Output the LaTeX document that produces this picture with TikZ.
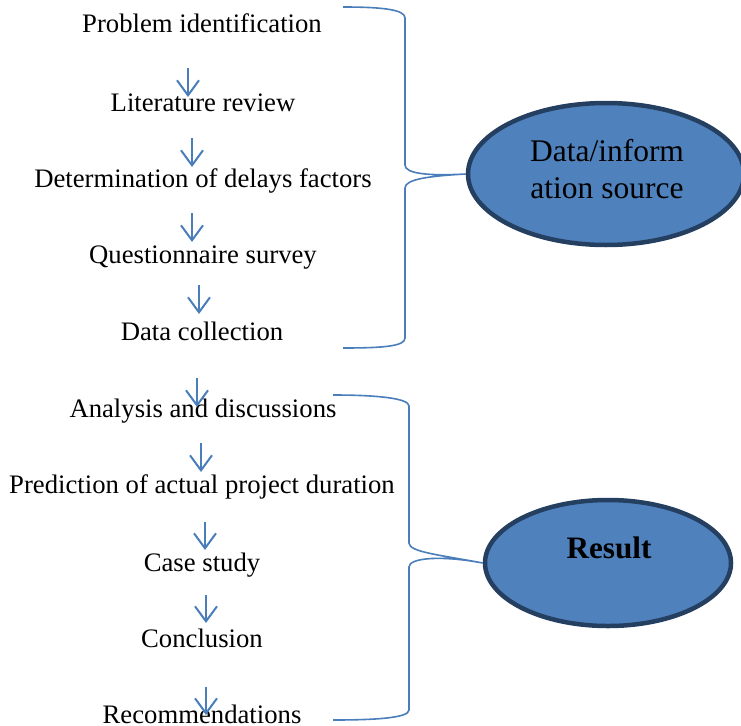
\documentclass[tikz,border=0pt]{standalone}
\usepackage{fontspec}
\setmainfont{Liberation Serif}
\usepackage{tikz}
\usetikzlibrary{arrows.meta,shapes.geometric}
\definecolor{linec}{HTML}{4A7EBB}
\definecolor{fillc}{HTML}{4F81BD}
\definecolor{edgec}{HTML}{243F60}
\tikzset{
  ar/.style={-{Straight Barb[length=15pt,width=22pt,line width=2pt]},line width=2pt,linec},
  brc/.style={line width=1.6pt,linec},
  stage/.style={anchor=base,inner sep=0pt,font=\fontsize{26.7}{32}\selectfont},
  src/.style={ellipse,draw=edgec,line width=4.5pt,fill=fillc,inner sep=0pt},
  srclbl/.style={inner sep=0pt,align=center,font=\fontsize{31.5}{37}\selectfont}
}
\begin{document}
\begin{tikzpicture}[x=1pt,y=-1pt]
\useasboundingbox (0,0) rectangle (741,725);
% stages
\node[stage] (prob) at (202,33) {Problem identification};
\node[stage] (lit) at (203,111) {Literature review};
\node[stage] (det) at (203,187) {Determination of delays factors};
\node[stage] (quest) at (203,263) {Questionnaire survey};
\node[stage] (coll) at (202,340) {Data collection};
\node[stage] (anal) at (203,417) {Analysis and discussions};
\node[stage] (pred) at (202,493) {Prediction of actual project duration};
\node[stage] (case) at (202,571) {Case study};
\node[stage] (concl) at (202,647) {Conclusion};
\node[stage] (recom) at (202,723) {Recommendations};
% arrows between stages
\foreach \i/\x/\ya/\yb in {1/188/68/97,2/192/138/167,3/192/213/242,4/199/285/314,5/197/378/407,6/201/443/472,7/205/522/550,8/206/595/623,9/206/687/715}{
  \coordinate (t\i) at (\x,\ya);
  \coordinate (h\i) at (\x,\yb);
  \draw[ar] (t\i) -- (h\i);
}
% ellipses
\node[src,minimum width=276pt,minimum height=142pt] (datasrc) at (606,174) {};
\node[srclbl] (datalbl) at (607,169) {Data/inform\\ation source};
\node[src,minimum width=246pt,minimum height=126pt] (result) at (608,563) {};
\node[anchor=base,inner sep=0pt,font=\fontsize{31.2}{37}\selectfont\bfseries] (reslbl) at (609,558) {Result};
% braces
\coordinate (ua) at (343,7);
\coordinate (ub) at (343,348);
\coordinate (la) at (333,395);
\coordinate (lb) at (333,720);
\draw[brc] (ua) .. controls (385,7) and (405,10) .. (405,18) -- (405,165)
  .. controls (405,174) and (430,176) .. (datasrc.west)
  .. controls (430,176) and (405,179) .. (405,188) -- (405,338)
  .. controls (405,346) and (385,348) .. (ub);
\draw[brc] (la) .. controls (375,395) and (409,398) .. (409,406) -- (409,543)
  .. controls (409,552) and (440,555) .. (result.west)
  .. controls (440,555) and (409,558) .. (409,567) -- (409,710)
  .. controls (409,718) and (375,720) .. (lb);
\end{tikzpicture}
\end{document}
